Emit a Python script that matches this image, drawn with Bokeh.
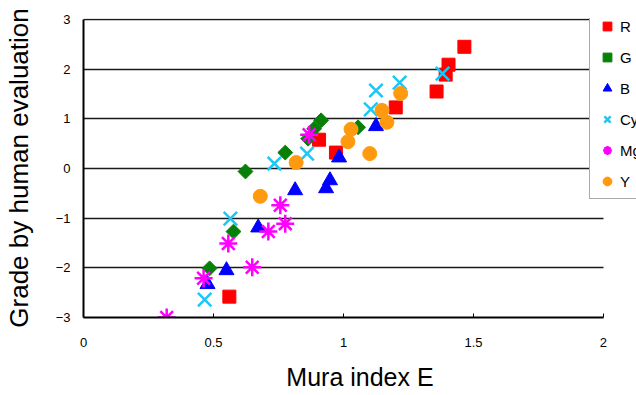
import math
from bokeh.plotting import figure
from bokeh.models import Legend, LegendItem, FixedTicker, Range1d
from bokeh.embed import file_html
from bokeh.resources import INLINE

# ---- data ----
series_names = ["R", "G", "B", "Cy", "Mg", "Y"]

r_x = [0.561, 0.906, 0.971, 1.201, 1.358, 1.393, 1.404, 1.465]
r_y = [-2.58, 0.58, 0.32, 1.23, 1.55, 1.89, 2.09, 2.45]

g_x = [0.485, 0.577, 0.623, 0.776, 0.864, 0.887, 0.914, 1.056]
g_y = [-2.01, -1.27, -0.06, 0.32, 0.60, 0.80, 0.97, 0.83]

b_x = [0.477, 0.550, 0.672, 0.814, 0.933, 0.948, 0.983, 1.125]
b_y = [-2.33, -2.05, -1.19, -0.44, -0.40, -0.24, 0.22, 0.85]

cy_x = [0.466, 0.565, 0.734, 0.860, 1.105, 1.125, 1.216, 1.381]
cy_y = [-2.64, -1.01, 0.10, 0.30, 1.19, 1.57, 1.73, 1.91]

mg_x = [0.320, 0.462, 0.557, 0.649, 0.711, 0.757, 0.776, 0.868]
mg_y = [-3.00, -2.21, -1.51, -1.99, -1.27, -0.74, -1.11, 0.68]

y_x = [0.680, 0.818, 1.017, 1.029, 1.101, 1.148, 1.167, 1.220]
y_y = [-0.56, 0.12, 0.54, 0.79, 0.30, 1.17, 0.93, 1.51]

x_ticks = [0, 0.5, 1, 1.5, 2]
y_ticks = [-3, -2, -1, 0, 1, 2, 3]
y_tick_labels = ["\u22123", "\u22122", "\u22121", "0", "1", "2", "3"]

x_label = "Mura index E"
y_label = "Grade by human evaluation"

FONT = "Liberation Sans"
X_MIN, X_MAX = 0, 2
Y_MIN, Y_MAX = -3, 3

# frame extends past x=2 so the legend can run off the right edge like the original
p = figure(width=636, height=395, output_backend="svg", toolbar_location=None,
           x_range=Range1d(X_MIN, 2.127), y_range=Range1d(Y_MIN, Y_MAX + 0.02),
           min_border_left=82, min_border_right=0, min_border_top=18,
           min_border_bottom=78)
p.outline_line_color = None
p.background_fill_color = "white"
p.border_fill_color = "white"

p.xgrid.visible = False
p.ygrid.ticker = FixedTicker(ticks=y_ticks)
if "cross_bounds" in p.ygrid[0].properties():
    p.ygrid.cross_bounds = (X_MIN, X_MAX)
    p.ygrid.grid_line_color = "#1a1a1a"
    p.ygrid.grid_line_width = 1.4
else:
    p.ygrid.visible = False
    p.segment(x0=[X_MIN] * len(y_ticks), x1=[X_MAX] * len(y_ticks), y0=y_ticks, y1=y_ticks,
              line_color="#1a1a1a", line_width=1.4)

p.xaxis.ticker = FixedTicker(ticks=x_ticks)
p.xaxis.bounds = (X_MIN, X_MAX)
p.yaxis.ticker = FixedTicker(ticks=y_ticks)
p.yaxis.bounds = (Y_MIN, Y_MAX)
p.yaxis.major_label_overrides = dict(zip(y_ticks, y_tick_labels))

for ax in (p.xaxis[0], p.yaxis[0]):
    ax.axis_line_color = "black"
    ax.axis_line_width = 2
    ax.minor_tick_line_color = None
    ax.major_label_text_font = FONT
    ax.major_label_text_font_size = "13px"
    ax.major_label_text_color = "black"
    ax.axis_label_text_font = FONT
    ax.axis_label_text_font_style = "normal"
    ax.axis_label_text_font_size = "25px"
    ax.axis_label_text_color = "black"
    ax.major_tick_line_color = "black"

p.yaxis.axis_label_text_font_size = "26px"
p.xaxis.axis_label = x_label
p.yaxis.axis_label = y_label
p.xaxis.major_tick_in = 4
p.xaxis.major_tick_out = 0
p.xaxis.major_label_standoff = 20
p.xaxis.axis_label_standoff = 13
p.yaxis.major_tick_in = 0
p.yaxis.major_tick_out = 0
p.yaxis.major_label_standoff = 13
p.yaxis.axis_label_standoff = 19

rr = p.scatter(r_x, r_y, marker="square", size=13, fill_color="#ff0000", line_color="#ff0000")
rg = p.scatter(g_x, g_y, marker="square", angle=math.pi / 4, size=10.5,
               fill_color="#078007", line_color="#078007")
rb = p.scatter(b_x, b_y, marker="triangle", size=15, fill_color="#0000ff", line_color="#0000ff")
rc = p.scatter(cy_x, cy_y, marker="x", size=19, line_color="#19c8f5", line_width=2.5)
rm = p.scatter(mg_x, mg_y, marker="asterisk", size=18, line_color="#ff00ff", line_width=2.5)
ry = p.scatter(y_x, y_y, marker="circle", size=14, fill_color="#ff9a10", line_color="#ff9a10")

renderers = [rr, rg, rb, rc, rm, ry]
legend = Legend(items=[LegendItem(label=n, renderers=[r]) for n, r in zip(series_names, renderers)],
                location=(506, 118))
legend.border_line_color = "#555555"
legend.border_line_width = 1
legend.background_fill_color = "white"
legend.background_fill_alpha = 1
legend.label_text_font = FONT
legend.label_text_font_size = "15px"
legend.label_text_color = "black"
legend.glyph_width = 22
legend.glyph_height = 22
legend.label_height = 20
legend.spacing = 9
legend.padding = 6
legend.label_standoff = 2
legend.margin = 0
p.add_layout(legend, "center")

open("out.html", "w").write(file_html(p, INLINE))
